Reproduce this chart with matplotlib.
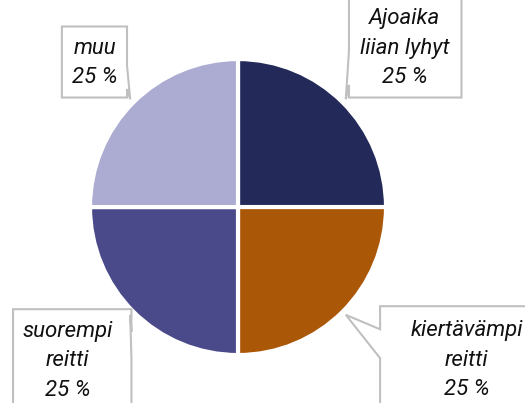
import numpy as np
import matplotlib.pyplot as plt
from matplotlib.patches import Polygon

labels = ['Ajoaika\nliian lyhyt', 'kiertävämpi\nreitti', 'suorempi\nreitti', 'muu']
values = [25, 25, 25, 25]
colors = ['#232a5a', '#ab5708', '#4a4a8a', '#acacd3']

# callout boxes (x0, x1, y0, y1) in pie units, side of the pointer, text centre
boxes = [(0.75, 1.51, 0.74, 1.45), (0.96, 2.05, -1.45, -0.67),
         (-1.52, -0.72, -1.45, -0.69), (-1.19, -0.75, 0.74, 1.22)]
sides = ['left', 'left', 'right', 'right']
text_pos = [(1.125, 1.074), (1.547, -1.034), (-1.149, -1.04), (-0.966, 0.973)]

fig = plt.figure(figsize=(5.25, 4.03), dpi=100)
ax = fig.add_axes([0, 0, 1, 1])
wedges, _ = ax.pie(values, startangle=90, counterclock=False, colors=colors,
                   radius=1, wedgeprops=dict(edgecolor='white', linewidth=3))
ax.set_xlim(-1.608, 1.939)
ax.set_ylim(-1.324, 1.399)
ax.set_aspect('equal')
ax.axis('off')

for w, lab, v, (x0, x1, y0, y1), side, (px, py) in zip(wedges, labels, values,
                                                      boxes, sides, text_pos):
    th = np.deg2rad((w.theta1 + w.theta2) / 2)
    tx, ty = 1.03 * np.cos(th), 1.03 * np.sin(th)
    h = y1 - y0
    if ty > 0:
        a, b = y0 + 0.12 * h, y0 + 0.45 * h
    else:
        a, b = y1 - 0.45 * h, y1 - 0.2 * h
    if side == 'left':
        pts = [(x0, y1), (x0, b), (tx, ty), (x0, a), (x0, y0), (x1, y0), (x1, y1)]
    else:
        pts = [(x0, y1), (x1, y1), (x1, b), (tx, ty), (x1, a), (x1, y0), (x0, y0)]
    ax.add_patch(Polygon(pts, closed=True, facecolor='white', edgecolor='#c0c0c0',
                         linewidth=1.5, zorder=3))
    ax.text(px, py, f'{lab}\n{v} %', ha='center', va='center', fontsize=16,
            style='italic', family='Roboto', linespacing=1.55,
            color='#111111', zorder=4)

fig.savefig('out.png', dpi=100)
